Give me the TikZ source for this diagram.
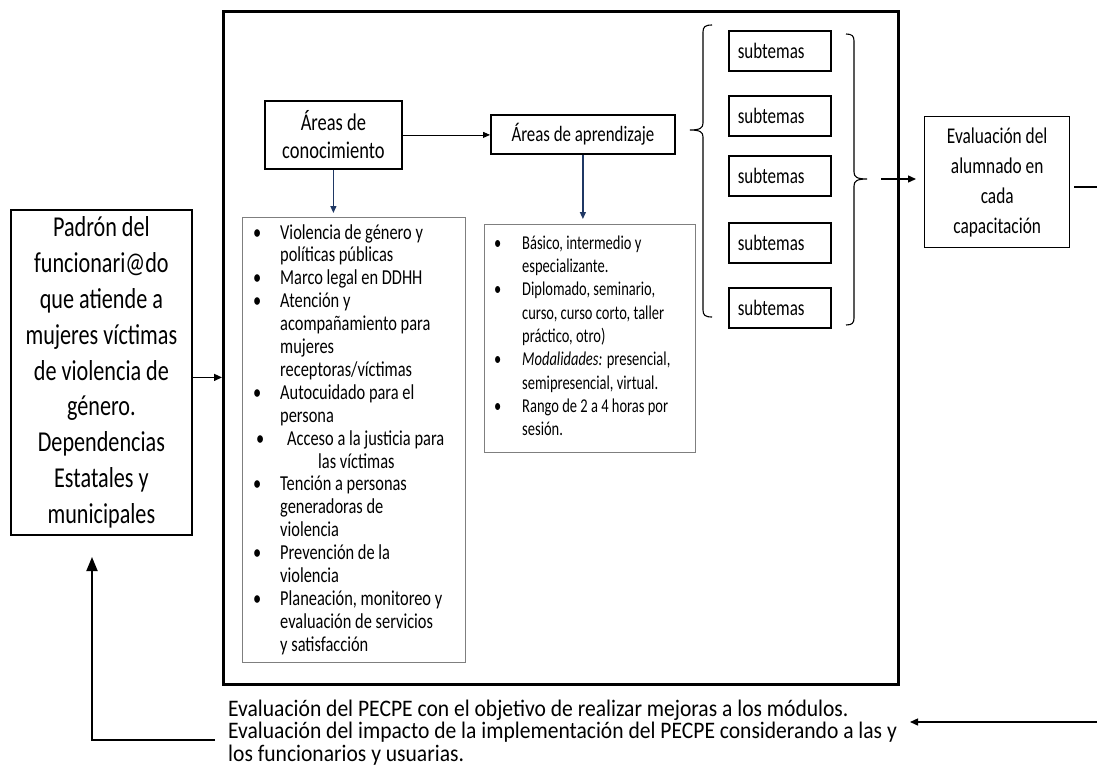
\documentclass[tikz,border=0pt]{standalone}
\usepackage{fontspec}
\setmainfont{Carlito}[FakeStretch=0.77]
\newfontfamily\bottomfont{Carlito}[FakeStretch=0.91]
\newfontfamily\condfont{Carlito}[FakeStretch=0.74]
\usetikzlibrary{arrows.meta,calc}
\definecolor{navy}{HTML}{1F3864}
\definecolor{listgray}{HTML}{7F7F7F}
\newcommand{\lbul}[1][27pt]{\makebox[#1][l]{\textbullet}}
\begin{document}
\begin{tikzpicture}[x=1pt,y=-1pt,
  box/.style={draw=black,line width=1.8pt,inner sep=0pt,anchor=north west,align=center},
  subbox/.style={draw=black,line width=1.5pt,anchor=north west,minimum width=102pt,minimum height=40pt,
     text width=84pt,inner xsep=9pt,inner ysep=0pt,align=flush left,font={\fontsize{22.1}{24}\selectfont}},
  listbox/.style={draw=listgray,line width=1.1pt,anchor=north west,inner sep=0pt},
  listtxt/.style={anchor=base west,inner sep=0pt},
  arr/.style={-{Triangle[length=8pt,width=7pt]},line width=1.4pt},
  thinarr/.style={-{Triangle[length=7pt,width=6pt]},line width=0.8pt},
  bluearr/.style={-{Triangle[length=7pt,width=6pt]},line width=1.2pt,draw=navy,fill=navy},
  bracestyle/.style={line width=1.1pt,draw=black},
]
\useasboundingbox (0,0) rectangle (1097,771);
\fill[white] (0,0) rectangle (1097,771);

% main frame
\node[box,line width=2.5pt,minimum width=675pt,minimum height=673pt] (main) at (222,10) {};

% left box
\node[box,line width=1.8pt,minimum width=181pt,minimum height=325pt,
  font={\fontsize{28.8}{35.9}\selectfont}] (padron) at (10,209)
  {Padrón del\\funcionari@do\\que atiende a\\mujeres víctimas\\de violencia de\\género.\\Dependencias\\Estatales y\\municipales};

% areas
\node[box,minimum width=137pt,minimum height=68pt,font={\fontsize{24}{28}\selectfont}] (conoc) at (264,100)
  {Áreas de\\conocimiento};
\node[box,minimum width=184pt,minimum height=39pt,font={\fontsize{21.9}{24}\selectfont}] (aprend) at (490,114)
  {Áreas de aprendizaje};

% list 1
\node[listbox,minimum width=223pt,minimum height=445pt] (lista1) at (242,217) {};
\node[listtxt] (lista1t) at (253,239)
{\fontsize{21.3}{22.9}\selectfont
\begin{minipage}[t]{240pt}\raggedright\lineskiplimit=-\maxdimen
\lbul Violencia de género y\\
\hspace*{27pt}políticas públicas\\
\lbul Marco legal en DDHH\\
\lbul Atención y\\
\hspace*{27pt}acompañamiento para\\
\hspace*{27pt}mujeres\\
\hspace*{27pt}receptoras/víctimas\\
\lbul Autocuidado para el\\
\hspace*{27pt}persona\\
\hspace*{3pt}\makebox[31pt][l]{\textbullet}Acceso a la justicia para\\
\hspace*{65pt}las víctimas\\
\lbul Tención a personas\\
\hspace*{27pt}generadoras de\\
\hspace*{27pt}violencia\\
\lbul Prevención de la\\
\hspace*{27pt}violencia\\
\lbul Planeación, monitoreo y\\
\hspace*{27pt}evaluación de servicios\\
\hspace*{27pt}y satisfacción
\end{minipage}};

% list 2
\node[listbox,minimum width=211pt,minimum height=228pt] (lista2) at (484,224) {};
\node[listtxt] (lista2t) at (494,249.3)
{\condfont\fontsize{19.6}{23.3}\selectfont
\begin{minipage}[t]{240pt}\raggedright\lineskiplimit=-\maxdimen
\lbul[28pt]Básico, intermedio y\\
\hspace*{28pt}especializante.\\
\lbul[28pt]Diplomado, seminario,\\
\hspace*{28pt}curso, curso corto, taller\\
\hspace*{28pt}práctico, otro)\\
\lbul[28pt]\textit{Modalidades:} presencial,\\
\hspace*{28pt}semipresencial, virtual.\\
\lbul[28pt]Rango de 2 a 4 horas por\\
\hspace*{28pt}sesión.
\end{minipage}};

% subtemas
\node[subbox] (s1) at (728,30) {subtemas};
\node[subbox] (s2) at (728,95) {subtemas};
\node[subbox] (s3) at (728,155) {subtemas};
\node[subbox] (s4) at (728,222) {subtemas};
\node[subbox] (s5) at (728,287) {subtemas};

% evaluation box
\node[box,line width=1.4pt,minimum width=145pt,minimum height=131pt,font={\fontsize{22.5}{30}\selectfont}] (eval) at (924,116)
  {Evaluación del\\alumnado en\\cada\\capacitación};

% bottom text
\node[listtxt] (bottom) at (228,716)
  {\bottomfont\fontsize{23.7}{22.7}\selectfont
   \begin{minipage}[t]{700pt}\raggedright\lineskiplimit=-\maxdimen
   Evaluación del PECPE con el objetivo de realizar mejoras a los módulos.\\
   Evaluación del impacto de la implementación del PECPE considerando a las y\\
   los funcionarios y usuarias.
   \end{minipage}};

% braces
\draw[bracestyle] (712,25) .. controls (705,25) and (703,27) .. (703,32) -- (703,123)
  .. controls (703,128) and (700,130) .. (690,130)
  .. controls (700,130) and (703,132) .. (703,137) -- (703,310)
  .. controls (703,315) and (705,317) .. (712,317);
\draw[bracestyle] (846,34) .. controls (852,34) and (854,36) .. (854,41) -- (854,172)
  .. controls (854,177) and (857,179) .. (867,179)
  .. controls (857,179) and (854,181) .. (854,186) -- (854,318)
  .. controls (854,323) and (852,325) .. (846,325);

% connectors
\draw[arr] ([yshift=-5pt]padron.east) -- ([yshift=-5pt]padron.east -| main.west);
\draw[thinarr] (conoc.east) -- (conoc.east -| aprend.west);
\draw[bluearr,shorten >=4pt] (conoc.south) -- (conoc.south |- lista1.north);
\draw[bluearr,shorten >=5pt] (aprend.south) -- (aprend.south |- lista2.north);

\coordinate (bt) at (881,179);
\draw[arr,shorten >=8pt] (bt) -- (bt -| eval.west);

\coordinate (rt) at (1097,187);
\draw[line width=1.6pt] ([xshift=4pt]eval.east |- rt) -- (rt);

\coordinate (rb) at (1097,722);
\coordinate (rbtip) at (910,722);
\draw[arr] (rb) -- (rbtip);

\coordinate (ret) at (215,740);
\coordinate (rettip) at (92,557);
\draw[-{Triangle[length=14pt,width=11pt]},line width=1.8pt] (ret) -| (rettip);
\end{tikzpicture}
\end{document}
